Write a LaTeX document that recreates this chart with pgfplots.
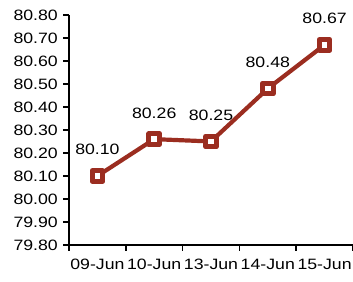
\documentclass[border=0pt]{standalone}
\usepackage{fontspec}
\setmainfont{Liberation Sans}[FakeStretch=1.18]
\usepackage{pgfplots}
\pgfplotsset{compat=1.18}
\definecolor{lc}{HTML}{9B2D20}
\begin{document}
\fontsize{15bp}{17bp}\selectfont
\begin{tikzpicture}
\begin{axis}[
  scale only axis,
  width=284bp, height=230bp,
  xmin=-0.5, xmax=4.5,
  ymin=79.8, ymax=80.8,
  axis x line*=bottom, axis y line*=left,
  axis line style={line width=1.6bp, black},
  xtick={-0.5,0.5,1.5,2.5,3.5,4.5},
  x tick label as interval=true,
  xticklabels={09-Jun,10-Jun,13-Jun,14-Jun,15-Jun},
  xticklabel style={yshift=-3bp},
  ytick={79.8,79.9,80.0,80.1,80.2,80.3,80.4,80.5,80.6,80.7,80.8},
  yticklabel style={/pgf/number format/fixed,/pgf/number format/fixed zerofill,/pgf/number format/precision=2},
  /pgf/number format/assume math mode=true,
  tick align=outside,
  major tick length=6bp,
  tick style={line width=1.6bp, black},
  tick label style={font=\fontsize{15bp}{17bp}\selectfont},
  clip=false,
  nodes near coords,
  point meta=explicit symbolic,
  every node near coord/.append style={anchor=base, yshift=21bp, font=\fontsize{15bp}{17bp}\selectfont, text=black},
]
\addplot[color=lc, line width=4.2bp, line join=round, mark=square*, mark size=5.3bp,
  mark options={fill=white, line width=5bp, line join=round}]
  coordinates {(0,80.10)[80.10] (1,80.26)[80.26] (2,80.25)[80.25] (3,80.48)[80.48] (4,80.67)[80.67]};
\coordinate (bl) at (rel axis cs:-0.243,-0.161);
\coordinate (tr) at (rel axis cs:1.0,1.065);
\end{axis}
\pgfresetboundingbox
\path (bl) rectangle (tr);
\end{tikzpicture}
\end{document}
